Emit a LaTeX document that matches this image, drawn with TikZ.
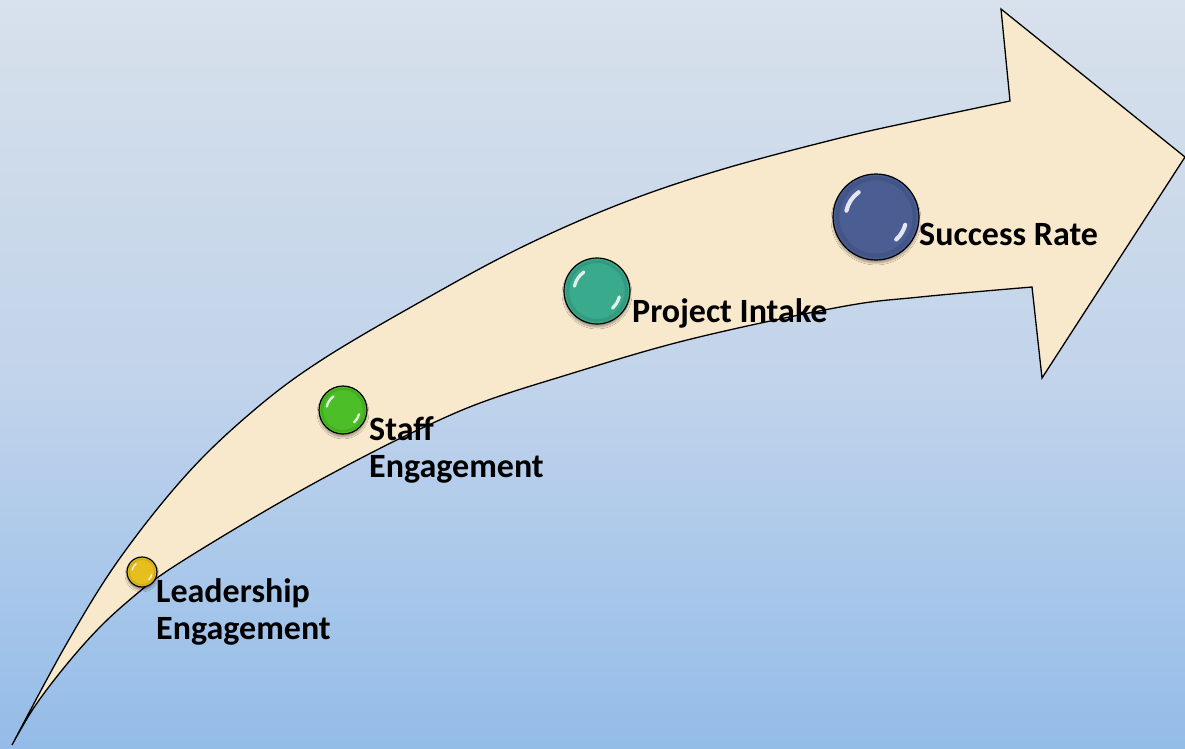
\documentclass[tikz,border=0pt]{standalone}
\usepackage{fontspec}
\setmainfont{Carlito}
\usetikzlibrary{shadows.blur,calc}
\definecolor{bgtop}{RGB}{216,225,236}
\definecolor{bgq}{RGB}{204,218,234}
\definecolor{bgmid}{RGB}{194,212,235}
\definecolor{bglow}{RGB}{166,198,234}
\definecolor{bgbot}{RGB}{148,188,232}
\definecolor{arrowfill}{RGB}{248,232,204}
\definecolor{cyellow}{RGB}{230,190,30}
\definecolor{cgreen}{RGB}{76,190,40}
\definecolor{cteal}{RGB}{58,170,140}
\definecolor{cnavy}{RGB}{74,94,148}
\pgfdeclareverticalshading{bgshade}{100bp}{color(0bp)=(bgbot); color(25bp)=(bgbot); color(35bp)=(bglow); color(50bp)=(bgmid); color(62.5bp)=(bgq); color(75bp)=(bgtop); color(100bp)=(bgtop)}
\tikzset{
  ball/.style={circle, draw=black, line width=1.2pt, inner sep=0pt,
    blur shadow={shadow xshift=0pt, shadow yshift=-3pt, shadow blur steps=6, shadow opacity=35}},
  lbl/.style={font=\fontsize{34}{37}\selectfont\bfseries, align=left, inner sep=0pt, text=black},
  bigarrow/.style={draw=black, line width=1.3pt, fill=arrowfill, line join=miter}
}
\newcommand{\gloss}[2]{%
  \begin{scope}[shift={(#1.center)}, x=1pt, y=1pt]
    \draw[#2!70!black, line width=0.1*\glossr pt, opacity=0.3] (0,0) circle[radius=0.92*\glossr pt];
    \draw[white, line width=0.1*\glossr pt, line cap=round, opacity=0.85] (125:0.72*\glossr pt) arc[start angle=125, end angle=168, radius=0.72*\glossr pt];
    \draw[white, line width=0.1*\glossr pt, line cap=round, opacity=0.85] (-15:0.72*\glossr pt) arc[start angle=-15, end angle=-48, radius=0.72*\glossr pt];
  \end{scope}}
\begin{document}
\begin{tikzpicture}[x=1pt, y=-1pt]
\useasboundingbox (0,0) rectangle (1185,748);
\fill[shading=bgshade] (0,0) rectangle (1185,748);
% big curved arrow
\draw[bigarrow] plot[smooth, tension=0.6] coordinates {(12,745) (67,643) (120,558) (187,474) (253,411) (320,361) (420,302) (520,248) (620,204) (720,170) (840,138) (920,120) (1010,101)}
  -- (1001,9) -- (1185,157) -- (1042,378) -- (1032,287)
  -- plot[smooth, tension=0.6] coordinates {(1032,287) (920,297) (840,307) (687,340) (560,377) (480,403) (420,429) (367,455) (300,491) (233,530) (167,571) (133,597) (100,627) (67,664) (35,706) (12,745)} -- cycle;
% balls
\node[ball, fill=cyellow, minimum size=30pt] (blead) at (142,572) {};
\node[ball, fill=cgreen, minimum size=48pt] (bstaff) at (343,410) {};
\node[ball, fill=cteal, minimum size=66pt] (bproj) at (597,291) {};
\node[ball, fill=cnavy, minimum size=86pt] (bsucc) at (876,217) {};
\def\glossr{14}\gloss{blead}{cyellow}
\def\glossr{23}\gloss{bstaff}{cgreen}
\def\glossr{32}\gloss{bproj}{cteal}
\def\glossr{42}\gloss{bsucc}{cnavy}
% labels
\node[lbl, anchor=base west] (tlead) at (156,639) {Leadership\\Engagement};
\node[lbl, anchor=base west] (tstaff) at (369,477) {Staff\\Engagement};
\node[lbl, anchor=base west] (tproj) at (632,322) {Project Intake};
\node[lbl, anchor=base west] (tsucc) at (919,245) {Success Rate};
\end{tikzpicture}
\end{document}
